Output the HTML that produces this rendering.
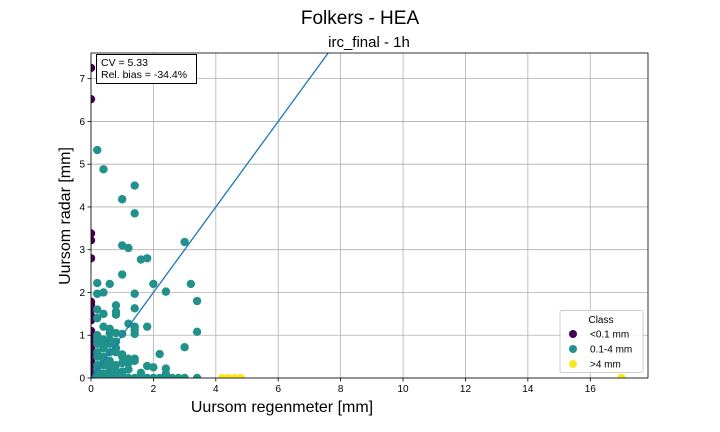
<!DOCTYPE html>
<html><head><meta charset="utf-8"><style>
body{margin:0;background:#fff}
svg{display:block;font-family:"Liberation Sans","DejaVu Sans",sans-serif}
</style></head><body>
<svg id="chart" width="720" height="432" viewBox="0 0 720 432">
<text x="360" y="24" text-anchor="middle" font-size="19">Folkers - HEA</text>
<text x="369" y="47" text-anchor="middle" font-size="15">irc_final - 1h</text>
<g id="grid"></g>
<g id="marks"></g>
<g id="axes"></g>
<text x="282" y="412" text-anchor="middle" font-size="16">Uursom regenmeter [mm]</text>
<text transform="translate(70,216) rotate(-90)" text-anchor="middle" font-size="16">Uursom radar [mm]</text>
<g>
<rect x="96.5" y="54.5" width="100" height="29" fill="#fff" stroke="#000" stroke-width="1"/>
<text x="101" y="66" font-size="10.5">CV = 5.33</text>
<text x="101" y="78" font-size="10.5">Rel. bias = -34.4%</text>
</g>
<g>
<rect x="560" y="310.5" width="83" height="62" rx="2" fill="#fff" fill-opacity="0.85" stroke="#ccc"/>
<text x="601" y="323" text-anchor="middle" font-size="10">Class</text>
<circle cx="573" cy="334" r="4" fill="#440154"/><text x="590" y="337.5" font-size="10">&lt;0.1 mm</text>
<circle cx="573" cy="349" r="4" fill="#21918c"/><text x="590" y="352.5" font-size="10">0.1-4 mm</text>
<circle cx="573" cy="364" r="4" fill="#fde725"/><text x="590" y="367.5" font-size="10">&gt;4 mm</text>
</g>
</svg>
<script>
const xTicks=[0,2,4,6,8,10,12,14,16];
const yTicks=[0,1,2,3,4,5,6,7];
const purpleX=[0,0,0,0,0,0,0,0,0,0,0,0,0,0,0,0,0,0,0,0,0,0,0];
const purpleY=[7.25,6.52,3.38,3.22,2.8,1.78,1.72,1.6,1.45,1.35,1.1,1.0,0.9,0.8,0.7,0.6,0.5,0.4,0.3,0.2,0.12,0.05,0.0];
const tealX=[0.2,0.4,1.4,1.0,1.4,3.0,1.0,1.2,1.6,1.8,1.0,0.2,0.6,2.0,3.2,0.2,0.4,1.4,2.4,3.4,0.8,0.2,0.8,0.8,0.4,1.4,0.2,0.4,1.2,1.4,1.4,1.8,0.6,0.6,0.8,1.0,1.4,3.4,0.2,3.0,2.2,1.4,1.4,1.8,2.0,2.4,2.4,1.6,
0.2,0.4,0.6,0.8,1.0,1.2,1.4,1.6,1.8,2.0,2.2,2.4,2.6,2.8,3.0,3.4,
0.2,0.2,0.2,0.2,0.2,0.4,0.4,0.4,0.4,0.4,0.6,0.6,0.6,0.6,0.8,0.8,0.8,0.8,1.0,1.0,1.0,1.2,1.2,0.2,0.4,0.6,0.8,1.0,0.2,0.4,0.6,0.8,1.2,0.2,0.4,0.6,0.8,1.0,0.2,0.4];
const tealY=[5.33,4.88,4.5,4.18,3.85,3.18,3.1,3.04,2.77,2.8,2.42,2.22,2.2,2.2,2.2,1.97,2.0,1.97,2.02,1.8,1.7,1.6,1.55,1.48,1.5,1.63,1.4,1.2,1.27,1.2,1.12,1.2,1.15,1.05,1.05,1.03,1.03,1.08,1.0,0.72,0.56,0.45,0.4,0.28,0.25,0.22,0.1,0.12,
0,0,0,0,0,0,0,0,0,0,0,0,0,0,0,0,
0.1,0.2,0.3,0.5,0.8,0.1,0.3,0.5,0.7,0.9,0.2,0.4,0.6,0.9,0.1,0.3,0.6,0.85,0.15,0.35,0.55,0.2,0.35,0.6,0.75,0.8,0.7,0.5,0.9,0.85,0.25,0.15,0.45,0.05,0.07,0.05,0.08,0.1,0.04,0.4,0.25];
const yellowX=[4.2,4.4,4.6,4.8,17.0];
const yellowY=[0,0,0,0,0];
const X0=91,X1=648,Y0=378,Y1=53,XMAX=17.85,YMAX=7.6;
const sx=v=>X0+v/XMAX*(X1-X0), sy=v=>Y0-v/YMAX*(Y0-Y1);
const NS="http://www.w3.org/2000/svg";
function mk(t,a,p){const e=document.createElementNS(NS,t);for(const k in a)e.setAttribute(k,a[k]);p.appendChild(e);return e;}
const grid=document.getElementById('grid'),axes=document.getElementById('axes'),marks=document.getElementById('marks');
xTicks.forEach(t=>{const x=sx(t);
 const g=mk('line',{x1:x,x2:x,y1:Y1,y2:Y0,stroke:'#b0b0b0','stroke-width':0.8},grid);
 
 mk('line',{x1:x,x2:x,y1:Y0,y2:Y0+3.5,stroke:'#000','stroke-width':0.8},axes);
 const l=mk('text',{x:x,y:Y0+14,'text-anchor':'middle','font-size':10},axes);l.textContent=t;
 });
yTicks.forEach(t=>{const y=sy(t);
 const g=mk('line',{x1:X0,x2:X1,y1:y,y2:y,stroke:'#b0b0b0','stroke-width':0.8},grid);
 
 mk('line',{x1:X0-3.5,x2:X0,y1:y,y2:y,stroke:'#000','stroke-width':0.8},axes);
 const l=mk('text',{x:X0-6,y:y+3.5,'text-anchor':'end','font-size':10},axes);l.textContent=t;
 });
const fr=mk('rect',{x:X0,y:Y1,width:X1-X0,height:Y0-Y1,fill:'none',stroke:'#000','stroke-width':0.8},axes);

const clip=mk('clipPath',{id:'pc'},marks);mk('rect',{x:X0,y:Y1,width:X1-X0,height:Y0-Y1},clip);
const mg=mk('g',{'clip-path':'url(#pc)'},marks);
function pts(xs,ys,c,name){xs.forEach((v,i)=>{const p=mk('circle',{cx:sx(v),cy:sy(ys[i]),r:4.2,fill:c},mg);
 });}
pts(purpleX,purpleY,'#440154','point-lt-0-1mm');
pts(tealX,tealY,'#21918c','point-0-1-4mm');
pts(yellowX,yellowY,'#fde725','point-gt-4mm');
const ln=mk('line',{x1:sx(0),y1:sy(0),x2:sx(YMAX),y2:sy(YMAX),stroke:'#1f77b4','stroke-width':1.3},mg);

</script>
</body></html>
